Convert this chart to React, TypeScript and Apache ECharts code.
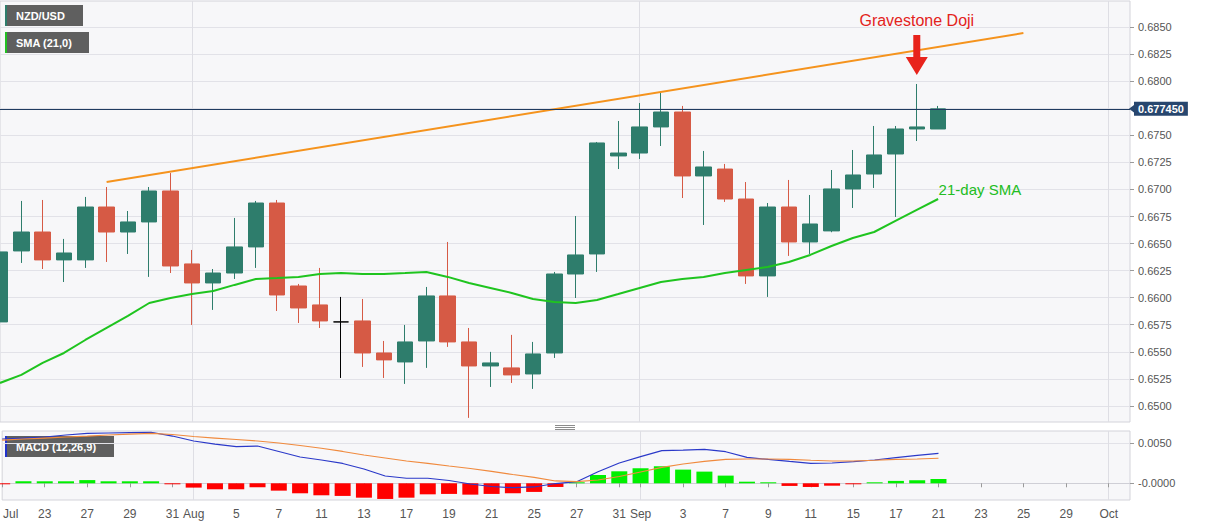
import React, { useEffect, useRef } from "react";
import * as echarts from "echarts";

const FONT = "'Liberation Sans', Arial, sans-serif";

// trading days shown on the axis (Jul 21 – Oct 2, 2020)
const dates = [
  "2020-07-21", "2020-07-22", "2020-07-23", "2020-07-24", "2020-07-27", "2020-07-28", "2020-07-29", "2020-07-30", "2020-07-31",
  "2020-08-03", "2020-08-04", "2020-08-05", "2020-08-06", "2020-08-07",
  "2020-08-10", "2020-08-11", "2020-08-12", "2020-08-13", "2020-08-14",
  "2020-08-17", "2020-08-18", "2020-08-19", "2020-08-20", "2020-08-21",
  "2020-08-24", "2020-08-25", "2020-08-26", "2020-08-27", "2020-08-28",
  "2020-08-31", "2020-09-01", "2020-09-02", "2020-09-03", "2020-09-04",
  "2020-09-07", "2020-09-08", "2020-09-09", "2020-09-10", "2020-09-11",
  "2020-09-14", "2020-09-15", "2020-09-16", "2020-09-17", "2020-09-18",
  "2020-09-21", "2020-09-22", "2020-09-23", "2020-09-24", "2020-09-25",
  "2020-09-28", "2020-09-29", "2020-09-30", "2020-10-01", "2020-10-02",
];

const opens = [0.65776, 0.66432, 0.66607, 0.66349, 0.66349, 0.66838, 0.66607, 0.667, 0.66986, 0.66312, 0.66136, 0.66228, 0.66469, 0.66875, 0.66108, 0.65933, 0.65776, 0.65785, 0.65489, 0.65406, 0.656, 0.66016, 0.65591, 0.65369, 0.65351, 0.65295, 0.65489, 0.66219, 0.66404, 0.6731, 0.67337, 0.67578, 0.67716, 0.67125, 0.67189, 0.66912, 0.66201, 0.66838, 0.66515, 0.66617, 0.67005, 0.67143, 0.67328, 0.67559, 0.67559];
const closes = [0.66423, 0.66607, 0.66349, 0.66413, 0.66838, 0.66607, 0.667, 0.66986, 0.66293, 0.66136, 0.66228, 0.66469, 0.66875, 0.66025, 0.65905, 0.65785, 0.65776, 0.65489, 0.65425, 0.65591, 0.66016, 0.65591, 0.65369, 0.65397, 0.65286, 0.6548, 0.66219, 0.66395, 0.6743, 0.67337, 0.67578, 0.67716, 0.67125, 0.67208, 0.66912, 0.66201, 0.66838, 0.66515, 0.66681, 0.67005, 0.67134, 0.67319, 0.67559, 0.67578, 0.67745];
const lows = [0.65591, 0.66321, 0.66265, 0.66145, 0.66275, 0.6633, 0.66404, 0.66192, 0.66228, 0.65748, 0.65887, 0.66173, 0.66275, 0.65877, 0.65766, 0.6572, 0.65258, 0.6536, 0.65258, 0.65203, 0.65351, 0.65545, 0.64889, 0.65175, 0.65212, 0.65157, 0.65443, 0.65997, 0.66238, 0.67189, 0.67282, 0.67402, 0.66921, 0.66672, 0.66885, 0.66127, 0.66007, 0.66386, 0.66404, 0.66605, 0.66829, 0.67014, 0.66746, 0.67448, 0.67559];
const highs = [0.66506, 0.66894, 0.66903, 0.66543, 0.66931, 0.67023, 0.66801, 0.67023, 0.67152, 0.66441, 0.66265, 0.66737, 0.66894, 0.66903, 0.66127, 0.66275, 0.66007, 0.65988, 0.656, 0.65748, 0.66099, 0.66515, 0.6572, 0.65499, 0.65656, 0.65591, 0.66238, 0.66755, 0.67439, 0.67633, 0.67799, 0.67892, 0.67772, 0.67356, 0.67236, 0.67069, 0.66875, 0.67088, 0.66949, 0.6718, 0.67365, 0.67587, 0.67587, 0.67975, 0.67772];

const sma21 = [0.65212, 0.65286, 0.65397, 0.65489, 0.65609, 0.6572, 0.65831, 0.65951, 0.65997, 0.66034, 0.66062, 0.66118, 0.66173, 0.66182, 0.66192, 0.66219, 0.66228, 0.66219, 0.66219, 0.66228, 0.66238, 0.66192, 0.66136, 0.6609, 0.66044, 0.65988, 0.65961, 0.65951, 0.65979, 0.66034, 0.6609, 0.66145, 0.66173, 0.66192, 0.66228, 0.66256, 0.66284, 0.6633, 0.66395, 0.66478, 0.66552, 0.66607, 0.66709, 0.66811, 0.66912];

const macdLine = [0.00554, 0.00566, 0.00579, 0.00604, 0.00625, 0.00629, 0.00633, 0.00638, 0.00591, 0.00529, 0.00491, 0.00458, 0.00466, 0.00398, 0.00329, 0.00291, 0.00248, 0.00179, 0.00091, 0.00063, 0.00063, 0.00035, -0.00009, -0.0004, -0.00055, -0.00046, -0.00003, 0.0002, 0.00145, 0.00254, 0.00333, 0.00408, 0.00416, 0.00425, 0.00395, 0.00325, 0.00298, 0.00273, 0.0025, 0.00254, 0.0027, 0.00291, 0.0032, 0.00348, 0.00375];
const signalLine = [0.00541, 0.00554, 0.00566, 0.00579, 0.00591, 0.00604, 0.00616, 0.00625, 0.0061, 0.00585, 0.00566, 0.00548, 0.00529, 0.00504, 0.00473, 0.00438, 0.00398, 0.00354, 0.00316, 0.00279, 0.00248, 0.00216, 0.00185, 0.00148, 0.0011, 0.00073, 0.00029, 0.0002, 0.00041, 0.00085, 0.00141, 0.00198, 0.00241, 0.00273, 0.00298, 0.00304, 0.00304, 0.00298, 0.00288, 0.00279, 0.00279, 0.00288, 0.00298, 0.00304, 0.00313];
const histogram = [-0.00005, 0.00025, 0.00025, 0.00025, 0.0004, 0.00025, 0.00025, 0.00025, -0.0001, -0.00054, -0.00075, -0.00075, -0.0005, -0.00092, -0.00125, -0.0015, -0.00158, -0.0018, -0.00196, -0.0018, -0.00138, -0.00133, -0.00142, -0.00133, -0.00125, -0.00108, -0.00046, 0.00005, 0.00104, 0.0015, 0.00188, 0.00213, 0.00171, 0.00146, 0.00096, 0.0002, 0.00003, -0.00033, -0.00046, -0.0003, -0.0001, 0.00005, 0.0003, 0.00038, 0.00054];

const trendDates = ["2020-07-28", "2020-09-25"];
const trendValues = [0.67069, 0.68446];
const lastPrice = 0.67745;
const lastPriceText = "0.677450";
const dojiDate = "2020-09-18";
const blackDojiDate = "2020-08-12";

const priceTicks = [0.65, 0.6525, 0.655, 0.6575, 0.66, 0.6625, 0.665, 0.6675, 0.67, 0.6725, 0.675, 0.6775, 0.68, 0.6825, 0.685];
const priceLabelTicks = [0.65, 0.6525, 0.655, 0.6575, 0.66, 0.6625, 0.665, 0.6675, 0.67, 0.6725, 0.675, 0.68, 0.6825, 0.685];
const macdTicks = [0, 0.005];
const macdTickTexts = ["-0.0000", "0.0050"];

const xTickDates = ["2020-07-21", "2020-07-23", "2020-07-27", "2020-07-29", "2020-07-31", "2020-08-03", "2020-08-05", "2020-08-07", "2020-08-11", "2020-08-13", "2020-08-17", "2020-08-19", "2020-08-21", "2020-08-25", "2020-08-27", "2020-08-31", "2020-09-01", "2020-09-03", "2020-09-07", "2020-09-09", "2020-09-11", "2020-09-15", "2020-09-17", "2020-09-21", "2020-09-23", "2020-09-25", "2020-09-29", "2020-10-01"];
const xTickTexts = ["Jul", "23", "27", "29", "31", "Aug", "5", "7", "11", "13", "17", "19", "21", "25", "27", "31", "Sep", "3", "7", "9", "11", "15", "17", "21", "23", "25", "29", "Oct"];
const monthStarts = ["2020-08-03", "2020-09-01", "2020-10-01"];

const UP = "#2e7d6c";
const DOWN = "#d65a45";

function legendBox(x: number, y: number, w: number, accent: string, text: string) {
  return {
    type: "group",
    x,
    y,
    z: 100,
    children: [
      { type: "rect", shape: { x: 0, y: 0, width: w, height: 21 }, style: { fill: "#5f5f5f" } },
      { type: "rect", shape: { x: 0, y: 0, width: 2, height: 21 }, style: { fill: accent } },
      {
        type: "text",
        x: 11,
        y: 11,
        style: { text, fill: "#ffffff", fontSize: 11, fontWeight: "bold", fontFamily: FONT, verticalAlign: "middle" },
      },
    ],
  };
}

export default function App() {
  const ref = useRef<HTMLDivElement>(null);
  useEffect(() => {
    if (!ref.current) return;
    const chart = echarts.init(ref.current, null, { renderer: "svg" });
    const candleData = opens.map((o, i) => {
      const item: any = { value: [o, closes[i], lows[i], highs[i]] };
      if (dates[i] === blackDojiDate) {
        item.itemStyle = { color: "#000", color0: "#000", borderColor: "#000", borderColor0: "#000" };
      }
      return item;
    });
    const dojiIdx = dates.indexOf(dojiDate);
    const isTick = (_i: number, v: string) => xTickDates.indexOf(v) >= 0;
    const isMonth = (_i: number, v: string) => monthStarts.indexOf(v) >= 0;

    const option: any = {
      animation: false,
      textStyle: { fontFamily: FONT },
      grid: [
        { left: 0, right: 77, top: 1, height: 421, show: true, backgroundColor: "#f7f7f9", borderColor: "#d3d3da", borderWidth: 1 },
        { left: 0, right: 77, top: 431, height: 69, show: true, backgroundColor: "#f7f7f9", borderColor: "#d3d3da", borderWidth: 1 },
      ],
      xAxis: [
        {
          gridIndex: 0,
          type: "category",
          data: dates,
          boundaryGap: false,
          axisLine: { show: false },
          axisTick: { show: false },
          axisLabel: { show: false },
          splitLine: { show: true, interval: isMonth, lineStyle: { color: "#dedee4", width: 1 } },
        },
        {
          gridIndex: 1,
          type: "category",
          data: dates,
          boundaryGap: false,
          axisLine: { show: true, lineStyle: { color: "#cfcfd6" } },
          axisTick: { show: true, interval: isTick, length: 4, lineStyle: { color: "#9a9a9a" } },
          axisLabel: {
            interval: isTick,
            color: "#555",
            fontSize: 12,
            fontFamily: FONT,
            margin: 8,
            formatter: (v: string) => {
              const k = xTickDates.indexOf(v);
              if (k < 0) return "";
              if (k === 0) return "{first|" + xTickTexts[k] + "}";
              return xTickTexts[k];
            },
            rich: { first: { padding: [0, 0, 0, 17], fontSize: 12, color: "#555", fontFamily: FONT } },
          },
          splitLine: { show: true, interval: isMonth, lineStyle: { color: "#dedee4", width: 1 } },
        },
      ],
      yAxis: [
        {
          gridIndex: 0,
          type: "value",
          position: "right",
          min: 0.64851,
          max: 0.68742,
          axisLine: { show: false },
          axisTick: { show: true, length: 4, customValues: priceTicks, lineStyle: { color: "#9a9a9a" } },
          axisLabel: {
            customValues: priceLabelTicks,
            formatter: (v: number) => v.toFixed(4),
            color: "#555",
            fontSize: 11,
            fontFamily: FONT,
            margin: 8,
          },
          splitLine: { show: true, lineStyle: { color: "#e2e2e8", width: 1 } },
        },
        {
          gridIndex: 1,
          type: "value",
          position: "right",
          min: -0.00209,
          max: 0.00654,
          axisLine: { show: false },
          axisTick: { show: true, length: 4, customValues: macdTicks, lineStyle: { color: "#9a9a9a" } },
          axisLabel: {
            customValues: macdTicks,
            formatter: (v: number) => {
              const k = macdTicks.indexOf(v);
              return k >= 0 ? macdTickTexts[k] : v.toFixed(4);
            },
            color: "#555",
            fontSize: 11,
            fontFamily: FONT,
            margin: 8,
          },
          splitLine: { show: true, lineStyle: { color: "#e2e2e8", width: 1 } },
        },
      ],
      series: [
        {
          name: "NZD/USD",
          type: "candlestick",
          xAxisIndex: 0,
          yAxisIndex: 0,
          barWidth: 16,
          data: candleData,
          itemStyle: { color: UP, color0: DOWN, borderColor: UP, borderColor0: DOWN, borderWidth: 1 },
          markPoint: {
            silent: true,
            data: [
              {
                coord: [dojiDate, highs[dojiIdx]],
                symbol: "path://M7.5,0 L14.5,0 L14.5,22 L22,22 L11,40 L0,22 L7.5,22 Z",
                symbolSize: [22, 40],
                symbolOffset: [0, -29],
                itemStyle: { color: "#e8231c" },
                label: {
                  show: true,
                  position: "top",
                  distance: 6,
                  formatter: "Gravestone Doji",
                  color: "#e3231c",
                  fontSize: 16,
                  fontFamily: FONT,
                },
              },
              {
                coord: [dates[dates.length - 1], lastPrice],
                symbol: "triangle",
                symbolRotate: 90,
                symbolSize: [9, 6],
                symbolOffset: [2, 0],
                itemStyle: { color: "#27466e" },
                label: { show: false },
              },
            ],
          },
        },
        {
          name: "SMA (21,0)",
          type: "line",
          xAxisIndex: 0,
          yAxisIndex: 0,
          data: sma21,
          symbol: "none",
          lineStyle: { color: "#1fc41f", width: 2 },
          markLine: {
            silent: true,
            precision: 6,
            symbol: ["none", "none"],
            data: [{ yAxis: lastPrice }],
            lineStyle: { color: "#1f3b60", width: 1, type: "solid" },
            label: {
              show: true,
              position: "end",
              distance: 4,
              formatter: lastPriceText,
              color: "#fff",
              fontWeight: "bold",
              fontSize: 11,
              fontFamily: FONT,
              backgroundColor: "#27466e",
              padding: [2, 4, 1, 4],
            },
          },
          markPoint: {
            silent: true,
            data: [
              {
                coord: [dates[sma21.length - 1], sma21[sma21.length - 1]],
                symbol: "circle",
                symbolSize: 1,
                itemStyle: { color: "rgba(0,0,0,0)" },
                label: {
                  show: true,
                  position: "right",
                  distance: 0,
                  offset: [0, -10],
                  formatter: "21-day SMA",
                  color: "#22bd22",
                  fontSize: 15,
                  fontFamily: FONT,
                },
              },
            ],
          },
        },
        {
          name: "Trend",
          type: "line",
          xAxisIndex: 0,
          yAxisIndex: 0,
          data: trendDates.map((d, i) => [d, trendValues[i]]),
          symbol: "none",
          lineStyle: { color: "#f5931d", width: 2 },
        },
        {
          name: "Histogram",
          type: "bar",
          xAxisIndex: 1,
          yAxisIndex: 1,
          barWidth: 16,
          barMinHeight: 1,
          data: histogram.map((v) => ({ value: v, itemStyle: { color: v >= 0 ? "#00f000" : "#ff0000" } })),
        },
        {
          name: "MACD",
          type: "line",
          xAxisIndex: 1,
          yAxisIndex: 1,
          data: macdLine,
          symbol: "none",
          lineStyle: { color: "#2b39c9", width: 1.2 },
        },
        {
          name: "Signal",
          type: "line",
          xAxisIndex: 1,
          yAxisIndex: 1,
          data: signalLine,
          symbol: "none",
          lineStyle: { color: "#f08a3e", width: 1.2 },
        },
      ],
      graphic: [
        legendBox(5, 5, 78, "#2e7d6c", "NZD/USD"),
        legendBox(5, 32, 84, "#22c022", "SMA (21,0)"),
        legendBox(5, 436, 109, "#2233cc", "MACD (12,26,9)"),
        { type: "line", shape: { x1: 555, y1: 425.5, x2: 575, y2: 425.5 }, style: { stroke: "#8c8c8c", lineWidth: 1 } },
        { type: "line", shape: { x1: 555, y1: 427.5, x2: 575, y2: 427.5 }, style: { stroke: "#8c8c8c", lineWidth: 1 } },
        { type: "line", shape: { x1: 555, y1: 429.5, x2: 575, y2: 429.5 }, style: { stroke: "#8c8c8c", lineWidth: 1 } },
      ],
    };
    chart.setOption(option);
    return () => chart.dispose();
  }, []);
  return <div ref={ref} style={{ position: "fixed", left: 0, top: 0, width: 1207, height: 526, background: "#fff" }} />;
}
